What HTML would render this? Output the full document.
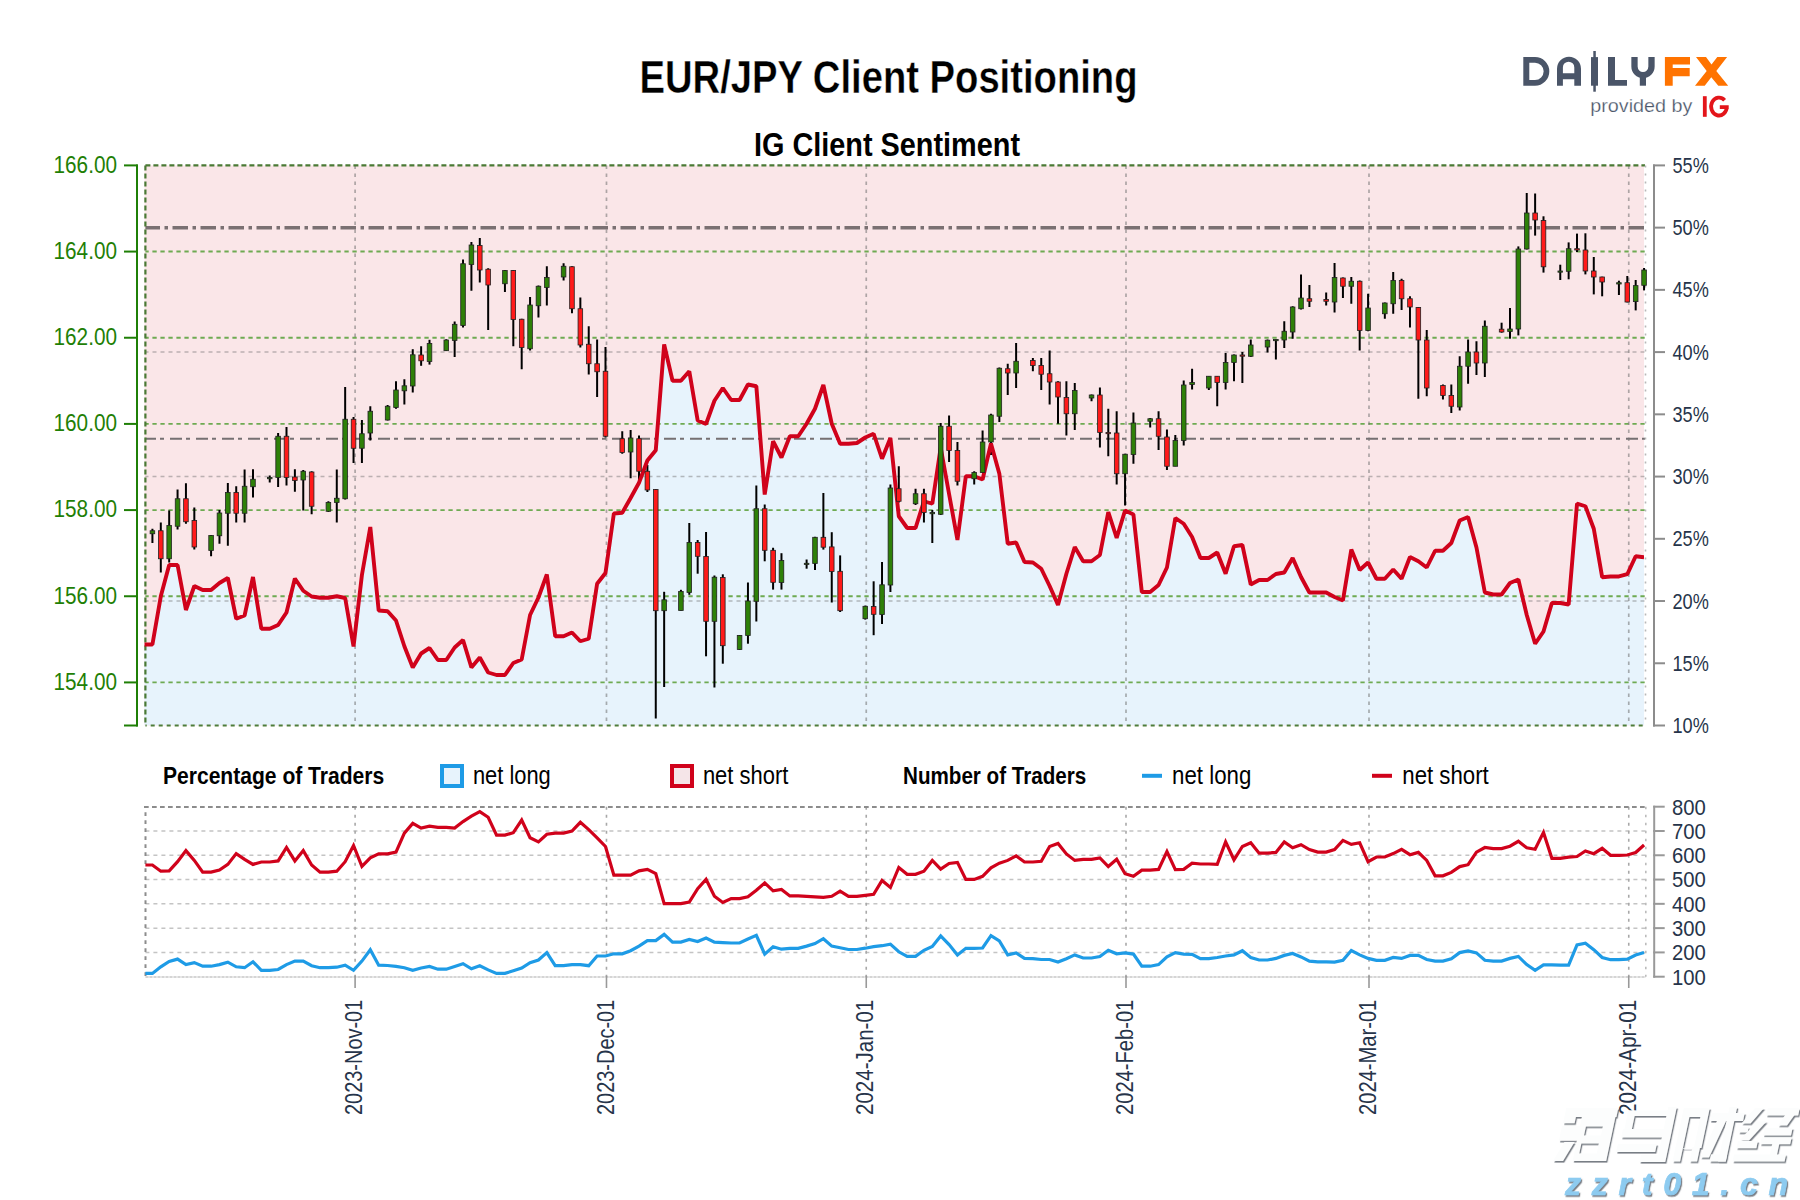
<!DOCTYPE html><html><head><meta charset="utf-8"><style>html,body{margin:0;padding:0;background:#fff;}svg{display:block}</style></head><body>
<svg width="1800" height="1200" viewBox="0 0 1800 1200" font-family="Liberation Sans, sans-serif">
<rect width="1800" height="1200" fill="#fff"/>
<text x="888.5" y="92.8" font-size="45.5" font-weight="bold" text-anchor="middle" textLength="498" lengthAdjust="spacingAndGlyphs" fill="#000" stroke="#fff" stroke-width="0.35">EUR/JPY Client Positioning</text>
<text x="887" y="155.8" font-size="32.5" font-weight="bold" text-anchor="middle" textLength="266" lengthAdjust="spacingAndGlyphs" fill="#000">IG Client Sentiment</text>
<g fill="#4a5568">
<path fill-rule="evenodd" d="M1523.3,57.1 H1535 A14.3,14.3 0 0 1 1535,85.7 H1523.3 Z M1529.3,62.7 H1535 A8.65,8.65 0 0 1 1535,80 H1529.3 Z"/>
<path fill-rule="evenodd" d="M1557,85.7 V68.7 A12,12 0 0 1 1581,68.7 V85.7 H1574.3 V79.3 H1562.9 V85.7 Z M1562.9,73.2 V67.4 A5.7,5.7 0 0 1 1574.3,67.4 V73.2 Z"/>
<rect x="1591" y="57.1" width="7" height="28.6"/><rect x="1593.3" y="51" width="2.5" height="40.7"/>
<path d="M1608,57.1 H1615 V80 H1627 V85.7 H1608 Z"/>
<path d="M1634.5,57.1 V66.6 A8.5,8.5 0 0 0 1651.5,66.6 V57.1" fill="none" stroke="#4a5568" stroke-width="6.3"/>
<rect x="1639.8" y="73" width="6.2" height="12.7"/>
</g>
<g fill="#ff7300">
<path d="M1664.9,57.1 H1690 V64.5 H1672.7 V68 H1689.7 V76.3 H1672.7 V85.7 H1664.9 Z"/>
<polygon points="1696,57.1 1706,57.1 1711.5,64.6 1717.3,57.1 1727.1,57.1 1716.3,71 1728.2,85.7 1718.3,85.7 1711.3,77.3 1704.7,85.7 1695,85.7 1706.7,71"/>
</g>
<text x="1590.2" y="112.4" font-size="19" textLength="102.3" lengthAdjust="spacingAndGlyphs" fill="#4a5568" stroke="#fff" stroke-width="0.25">provided by</text>
<rect x="1702.9" y="96.2" width="3.8" height="20.6" fill="#e3151a"/>
<path d="M1724.6,100.3 A7.85,8.9 0 1 0 1726.85,106.8 M1719.8,107.2 H1728.7" fill="none" stroke="#e3151a" stroke-width="3.8"/>
<rect x="144.5" y="165.4" width="1499.5" height="560.1" fill="#fae6e8"/>
<defs><clipPath id="pc"><rect x="144.5" y="165.4" width="1499.5" height="560.1"/></clipPath><clipPath id="bc"><rect x="145.4" y="801.7" width="1500.3999999999999" height="180.0"/></clipPath></defs>
<polygon clip-path="url(#pc)" points="144.04,725.5 144.04,644.50 152.42,644.50 160.80,596.30 169.18,565.00 177.56,565.00 185.94,610.00 194.32,586.00 202.70,590.00 211.08,590.00 219.46,583.00 227.84,578.00 236.22,618.75 244.60,615.50 252.98,577.00 261.36,628.75 269.74,628.75 278.12,625.00 286.50,612.50 294.88,578.50 303.26,590.75 311.64,596.50 320.02,597.75 328.40,597.75 336.78,596.25 345.16,598.00 353.54,646.50 361.92,575.00 370.30,527.00 378.68,610.50 387.61,611.25 395.99,620.50 404.37,646.25 412.75,667.50 421.13,653.50 429.51,648.00 437.89,660.00 446.27,660.00 454.65,647.50 463.03,640.00 471.41,667.50 479.79,657.50 488.17,672.50 496.55,675.00 504.93,675.00 513.31,663.00 521.69,659.50 530.07,615.00 538.45,597.50 546.83,574.50 555.21,636.25 563.59,636.25 571.97,632.50 580.35,641.25 588.73,638.75 597.11,583.75 605.49,573.00 613.87,513.50 622.25,512.75 630.63,498.00 639.01,482.75 647.39,460.50 655.77,450.25 664.15,344.50 672.53,380.75 680.91,380.75 689.29,371.25 697.67,420.50 706.05,424.00 714.43,400.75 722.81,388.00 731.19,400.00 739.57,400.00 747.95,384.50 756.33,386.25 764.71,494.50 773.09,441.25 781.47,457.50 789.85,436.25 798.23,436.25 806.61,423.75 814.99,408.75 823.37,385.00 831.75,423.75 840.13,443.75 848.51,443.75 856.89,443.00 865.27,437.50 873.65,433.75 882.03,458.75 890.41,438.00 898.79,516.25 907.17,528.00 915.55,528.00 923.93,501.25 932.31,503.75 940.69,447.50 949.07,494.00 957.45,540.00 965.83,476.25 974.21,476.25 982.59,479.50 990.97,443.50 999.35,473.75 1007.73,543.75 1016.11,542.50 1024.49,562.00 1032.87,562.50 1041.25,568.75 1049.63,586.00 1058.01,605.00 1066.39,573.75 1074.77,547.00 1083.15,561.25 1091.53,561.25 1099.91,555.00 1108.29,512.00 1116.67,538.00 1125.05,510.50 1133.43,514.50 1141.81,592.00 1150.19,592.00 1158.57,585.00 1166.95,567.50 1175.33,518.00 1183.71,523.75 1192.09,537.00 1200.47,558.00 1208.85,558.00 1217.23,552.50 1225.61,573.75 1233.99,546.25 1242.37,545.00 1250.75,584.50 1259.13,580.00 1267.51,580.00 1275.89,574.00 1284.27,572.50 1292.65,558.00 1301.03,577.00 1309.41,592.50 1317.79,592.50 1326.17,592.50 1334.55,597.00 1342.93,600.50 1351.31,549.50 1359.69,570.00 1368.07,562.50 1376.45,578.75 1384.83,578.75 1393.21,569.50 1401.59,578.75 1409.97,557.00 1418.35,561.25 1426.73,567.50 1435.11,550.75 1442.94,550.75 1451.32,543.00 1459.70,520.50 1468.08,517.00 1476.46,547.50 1484.84,592.50 1493.22,594.50 1501.60,594.50 1509.98,583.00 1518.36,579.50 1526.74,615.00 1535.12,643.75 1543.50,631.50 1551.88,603.00 1560.26,603.00 1568.64,604.50 1577.02,503.70 1585.40,506.25 1593.78,528.75 1602.16,577.20 1610.54,576.45 1618.92,576.45 1627.30,574.20 1635.68,556.20 1644.06,557.25 1644.06,725.5" fill="#e7f3fc"/>
<line x1="145.4" y1="352.10" x2="1645.0" y2="352.10" stroke="#6e6e6e" stroke-opacity="0.45" stroke-width="1.5" stroke-dasharray="4 4" stroke-dashoffset="0.9"/>
<line x1="145.4" y1="476.57" x2="1645.0" y2="476.57" stroke="#6e6e6e" stroke-opacity="0.45" stroke-width="1.5" stroke-dasharray="4 4" stroke-dashoffset="0.9"/>
<line x1="145.4" y1="601.03" x2="1645.0" y2="601.03" stroke="#6e6e6e" stroke-opacity="0.45" stroke-width="1.5" stroke-dasharray="4 4" stroke-dashoffset="0.9"/>
<line x1="145.4" y1="251.57" x2="1645.0" y2="251.57" stroke="#6eaa52" stroke-width="1.9" stroke-dasharray="4.3 3.7" stroke-dashoffset="1"/>
<line x1="145.4" y1="337.74" x2="1645.0" y2="337.74" stroke="#6eaa52" stroke-width="1.9" stroke-dasharray="4.3 3.7" stroke-dashoffset="1"/>
<line x1="145.4" y1="423.91" x2="1645.0" y2="423.91" stroke="#6eaa52" stroke-width="1.9" stroke-dasharray="4.3 3.7" stroke-dashoffset="1"/>
<line x1="145.4" y1="510.08" x2="1645.0" y2="510.08" stroke="#6eaa52" stroke-width="1.9" stroke-dasharray="4.3 3.7" stroke-dashoffset="1"/>
<line x1="145.4" y1="596.25" x2="1645.0" y2="596.25" stroke="#6eaa52" stroke-width="1.9" stroke-dasharray="4.3 3.7" stroke-dashoffset="1"/>
<line x1="145.4" y1="682.42" x2="1645.0" y2="682.42" stroke="#6eaa52" stroke-width="1.9" stroke-dasharray="4.3 3.7" stroke-dashoffset="1"/>
<line x1="355.10" y1="165.4" x2="355.10" y2="725.5" stroke="#6e6e6e" stroke-opacity="0.55" stroke-width="1.7" stroke-dasharray="3.5 4.5"/>
<line x1="606.48" y1="165.4" x2="606.48" y2="725.5" stroke="#6e6e6e" stroke-opacity="0.55" stroke-width="1.7" stroke-dasharray="3.5 4.5"/>
<line x1="866.24" y1="165.4" x2="866.24" y2="725.5" stroke="#6e6e6e" stroke-opacity="0.55" stroke-width="1.7" stroke-dasharray="3.5 4.5"/>
<line x1="1126.00" y1="165.4" x2="1126.00" y2="725.5" stroke="#6e6e6e" stroke-opacity="0.55" stroke-width="1.7" stroke-dasharray="3.5 4.5"/>
<line x1="1369.00" y1="165.4" x2="1369.00" y2="725.5" stroke="#6e6e6e" stroke-opacity="0.55" stroke-width="1.7" stroke-dasharray="3.5 4.5"/>
<line x1="1628.75" y1="165.4" x2="1628.75" y2="725.5" stroke="#6e6e6e" stroke-opacity="0.55" stroke-width="1.7" stroke-dasharray="3.5 4.5"/>
<line x1="145.4" y1="227.7" x2="1645.0" y2="227.7" stroke="#7a7072" stroke-width="3.4" stroke-dasharray="15.5 4.5 3.5 4.5" stroke-dashoffset="0.9"/>
<line x1="145.4" y1="438.8" x2="1645.0" y2="438.8" stroke="#767072" stroke-width="2" stroke-dasharray="12 4 4 6" stroke-dashoffset="1.4"/>
<line x1="145.4" y1="165.4" x2="1645.0" y2="165.4" stroke="#4a7a35" stroke-width="2.2" stroke-dasharray="5 3"/>
<line x1="145.4" y1="725.5" x2="1645.0" y2="725.5" stroke="#4e7d3a" stroke-width="2.2" stroke-dasharray="4 4" stroke-dashoffset="2.7"/>
<line x1="145.4" y1="165.4" x2="145.4" y2="725.5" stroke="#4a7a35" stroke-width="2.2" stroke-dasharray="5 3"/>
<line x1="1645.5" y1="165.4" x2="1645.5" y2="725.5" stroke="#b8b8b8" stroke-width="1.6" stroke-dasharray="2.2 5.8"/>
<line x1="152.42" y1="528.75" x2="152.42" y2="543.00" stroke="#000" stroke-width="2"/>
<line x1="160.80" y1="522.50" x2="160.80" y2="572.50" stroke="#000" stroke-width="2"/>
<line x1="169.18" y1="510.50" x2="169.18" y2="562.50" stroke="#000" stroke-width="2"/>
<line x1="177.56" y1="489.50" x2="177.56" y2="529.50" stroke="#000" stroke-width="2"/>
<line x1="185.94" y1="483.25" x2="185.94" y2="523.75" stroke="#000" stroke-width="2"/>
<line x1="194.32" y1="507.50" x2="194.32" y2="549.50" stroke="#000" stroke-width="2"/>
<line x1="211.08" y1="535.00" x2="211.08" y2="556.25" stroke="#000" stroke-width="2"/>
<line x1="219.46" y1="510.00" x2="219.46" y2="543.75" stroke="#000" stroke-width="2"/>
<line x1="227.84" y1="483.00" x2="227.84" y2="545.75" stroke="#000" stroke-width="2"/>
<line x1="236.22" y1="486.25" x2="236.22" y2="522.50" stroke="#000" stroke-width="2"/>
<line x1="244.60" y1="469.50" x2="244.60" y2="522.50" stroke="#000" stroke-width="2"/>
<line x1="252.98" y1="469.25" x2="252.98" y2="497.50" stroke="#000" stroke-width="2"/>
<line x1="269.74" y1="475.50" x2="269.74" y2="482.50" stroke="#000" stroke-width="2"/>
<line x1="278.12" y1="433.00" x2="278.12" y2="487.00" stroke="#000" stroke-width="2"/>
<line x1="286.50" y1="427.00" x2="286.50" y2="485.50" stroke="#000" stroke-width="2"/>
<line x1="294.88" y1="469.25" x2="294.88" y2="491.75" stroke="#000" stroke-width="2"/>
<line x1="303.26" y1="470.00" x2="303.26" y2="510.50" stroke="#000" stroke-width="2"/>
<line x1="311.64" y1="471.25" x2="311.64" y2="514.25" stroke="#000" stroke-width="2"/>
<line x1="328.40" y1="501.25" x2="328.40" y2="512.00" stroke="#000" stroke-width="2"/>
<line x1="336.78" y1="469.50" x2="336.78" y2="522.50" stroke="#000" stroke-width="2"/>
<line x1="345.16" y1="387.00" x2="345.16" y2="499.50" stroke="#000" stroke-width="2"/>
<line x1="353.54" y1="417.00" x2="353.54" y2="463.00" stroke="#000" stroke-width="2"/>
<line x1="361.92" y1="420.00" x2="361.92" y2="463.00" stroke="#000" stroke-width="2"/>
<line x1="370.30" y1="406.25" x2="370.30" y2="440.50" stroke="#000" stroke-width="2"/>
<line x1="387.61" y1="405.00" x2="387.61" y2="420.50" stroke="#000" stroke-width="2"/>
<line x1="395.99" y1="381.25" x2="395.99" y2="408.75" stroke="#000" stroke-width="2"/>
<line x1="404.37" y1="379.25" x2="404.37" y2="404.50" stroke="#000" stroke-width="2"/>
<line x1="412.75" y1="349.20" x2="412.75" y2="392.50" stroke="#000" stroke-width="2"/>
<line x1="421.13" y1="346.25" x2="421.13" y2="365.80" stroke="#000" stroke-width="2"/>
<line x1="429.51" y1="339.80" x2="429.51" y2="364.60" stroke="#000" stroke-width="2"/>
<line x1="446.27" y1="339.25" x2="446.27" y2="351.00" stroke="#000" stroke-width="2"/>
<line x1="454.65" y1="321.50" x2="454.65" y2="357.00" stroke="#000" stroke-width="2"/>
<line x1="463.03" y1="259.50" x2="463.03" y2="327.50" stroke="#000" stroke-width="2"/>
<line x1="471.41" y1="242.00" x2="471.41" y2="290.75" stroke="#000" stroke-width="2"/>
<line x1="479.79" y1="238.00" x2="479.79" y2="282.50" stroke="#000" stroke-width="2"/>
<line x1="488.17" y1="268.25" x2="488.17" y2="330.00" stroke="#000" stroke-width="2"/>
<line x1="504.93" y1="270.00" x2="504.93" y2="292.00" stroke="#000" stroke-width="2"/>
<line x1="513.31" y1="270.00" x2="513.31" y2="346.25" stroke="#000" stroke-width="2"/>
<line x1="521.69" y1="318.75" x2="521.69" y2="369.25" stroke="#000" stroke-width="2"/>
<line x1="530.07" y1="297.00" x2="530.07" y2="350.50" stroke="#000" stroke-width="2"/>
<line x1="538.45" y1="285.50" x2="538.45" y2="317.50" stroke="#000" stroke-width="2"/>
<line x1="546.83" y1="266.25" x2="546.83" y2="305.50" stroke="#000" stroke-width="2"/>
<line x1="563.59" y1="263.25" x2="563.59" y2="280.50" stroke="#000" stroke-width="2"/>
<line x1="571.97" y1="266.25" x2="571.97" y2="313.25" stroke="#000" stroke-width="2"/>
<line x1="580.35" y1="297.50" x2="580.35" y2="347.50" stroke="#000" stroke-width="2"/>
<line x1="588.73" y1="326.25" x2="588.73" y2="374.50" stroke="#000" stroke-width="2"/>
<line x1="597.11" y1="339.50" x2="597.11" y2="397.00" stroke="#000" stroke-width="2"/>
<line x1="605.49" y1="347.00" x2="605.49" y2="437.50" stroke="#000" stroke-width="2"/>
<line x1="622.25" y1="431.25" x2="622.25" y2="453.75" stroke="#000" stroke-width="2"/>
<line x1="630.63" y1="430.00" x2="630.63" y2="478.25" stroke="#000" stroke-width="2"/>
<line x1="639.01" y1="435.50" x2="639.01" y2="480.00" stroke="#000" stroke-width="2"/>
<line x1="647.39" y1="465.00" x2="647.39" y2="492.00" stroke="#000" stroke-width="2"/>
<line x1="655.77" y1="489.00" x2="655.77" y2="718.50" stroke="#000" stroke-width="2"/>
<line x1="664.15" y1="591.80" x2="664.15" y2="687.00" stroke="#000" stroke-width="2"/>
<line x1="680.91" y1="589.80" x2="680.91" y2="610.70" stroke="#000" stroke-width="2"/>
<line x1="689.29" y1="523.00" x2="689.29" y2="594.80" stroke="#000" stroke-width="2"/>
<line x1="697.67" y1="540.00" x2="697.67" y2="573.70" stroke="#000" stroke-width="2"/>
<line x1="706.05" y1="532.00" x2="706.05" y2="656.30" stroke="#000" stroke-width="2"/>
<line x1="714.43" y1="575.50" x2="714.43" y2="687.50" stroke="#000" stroke-width="2"/>
<line x1="722.81" y1="574.30" x2="722.81" y2="663.70" stroke="#000" stroke-width="2"/>
<line x1="739.57" y1="635.00" x2="739.57" y2="650.00" stroke="#000" stroke-width="2"/>
<line x1="747.95" y1="582.50" x2="747.95" y2="643.70" stroke="#000" stroke-width="2"/>
<line x1="756.33" y1="485.50" x2="756.33" y2="621.50" stroke="#000" stroke-width="2"/>
<line x1="764.71" y1="504.50" x2="764.71" y2="561.30" stroke="#000" stroke-width="2"/>
<line x1="773.09" y1="547.75" x2="773.09" y2="589.60" stroke="#000" stroke-width="2"/>
<line x1="781.47" y1="553.20" x2="781.47" y2="589.60" stroke="#000" stroke-width="2"/>
<line x1="806.61" y1="559.50" x2="806.61" y2="568.70" stroke="#000" stroke-width="2"/>
<line x1="814.99" y1="536.80" x2="814.99" y2="570.00" stroke="#000" stroke-width="2"/>
<line x1="823.37" y1="493.00" x2="823.37" y2="549.60" stroke="#000" stroke-width="2"/>
<line x1="831.75" y1="532.20" x2="831.75" y2="602.50" stroke="#000" stroke-width="2"/>
<line x1="840.13" y1="555.40" x2="840.13" y2="612.00" stroke="#000" stroke-width="2"/>
<line x1="865.27" y1="605.60" x2="865.27" y2="619.60" stroke="#000" stroke-width="2"/>
<line x1="873.65" y1="581.30" x2="873.65" y2="635.20" stroke="#000" stroke-width="2"/>
<line x1="882.03" y1="562.00" x2="882.03" y2="624.00" stroke="#000" stroke-width="2"/>
<line x1="890.41" y1="484.50" x2="890.41" y2="592.00" stroke="#000" stroke-width="2"/>
<line x1="898.79" y1="466.25" x2="898.79" y2="502.50" stroke="#000" stroke-width="2"/>
<line x1="915.55" y1="488.75" x2="915.55" y2="505.00" stroke="#000" stroke-width="2"/>
<line x1="923.93" y1="488.75" x2="923.93" y2="522.50" stroke="#000" stroke-width="2"/>
<line x1="932.31" y1="510.00" x2="932.31" y2="543.00" stroke="#000" stroke-width="2"/>
<line x1="940.69" y1="423.00" x2="940.69" y2="515.00" stroke="#000" stroke-width="2"/>
<line x1="949.07" y1="415.50" x2="949.07" y2="462.00" stroke="#000" stroke-width="2"/>
<line x1="957.45" y1="442.00" x2="957.45" y2="485.50" stroke="#000" stroke-width="2"/>
<line x1="974.21" y1="471.25" x2="974.21" y2="484.50" stroke="#000" stroke-width="2"/>
<line x1="982.59" y1="430.50" x2="982.59" y2="473.00" stroke="#000" stroke-width="2"/>
<line x1="990.97" y1="413.75" x2="990.97" y2="455.00" stroke="#000" stroke-width="2"/>
<line x1="999.35" y1="367.50" x2="999.35" y2="422.00" stroke="#000" stroke-width="2"/>
<line x1="1007.73" y1="363.75" x2="1007.73" y2="395.00" stroke="#000" stroke-width="2"/>
<line x1="1016.11" y1="343.00" x2="1016.11" y2="388.00" stroke="#000" stroke-width="2"/>
<line x1="1032.87" y1="358.00" x2="1032.87" y2="371.25" stroke="#000" stroke-width="2"/>
<line x1="1041.25" y1="358.00" x2="1041.25" y2="390.00" stroke="#000" stroke-width="2"/>
<line x1="1049.63" y1="350.50" x2="1049.63" y2="404.50" stroke="#000" stroke-width="2"/>
<line x1="1058.01" y1="381.25" x2="1058.01" y2="423.75" stroke="#000" stroke-width="2"/>
<line x1="1066.39" y1="381.25" x2="1066.39" y2="435.50" stroke="#000" stroke-width="2"/>
<line x1="1074.77" y1="383.00" x2="1074.77" y2="430.00" stroke="#000" stroke-width="2"/>
<line x1="1091.53" y1="394.50" x2="1091.53" y2="401.25" stroke="#000" stroke-width="2"/>
<line x1="1099.91" y1="387.50" x2="1099.91" y2="447.50" stroke="#000" stroke-width="2"/>
<line x1="1108.29" y1="408.75" x2="1108.29" y2="456.25" stroke="#000" stroke-width="2"/>
<line x1="1116.67" y1="411.25" x2="1116.67" y2="484.50" stroke="#000" stroke-width="2"/>
<line x1="1125.05" y1="453.75" x2="1125.05" y2="505.50" stroke="#000" stroke-width="2"/>
<line x1="1133.43" y1="412.50" x2="1133.43" y2="463.75" stroke="#000" stroke-width="2"/>
<line x1="1150.19" y1="418.00" x2="1150.19" y2="427.50" stroke="#000" stroke-width="2"/>
<line x1="1158.57" y1="411.25" x2="1158.57" y2="450.00" stroke="#000" stroke-width="2"/>
<line x1="1166.95" y1="429.50" x2="1166.95" y2="470.00" stroke="#000" stroke-width="2"/>
<line x1="1175.33" y1="435.00" x2="1175.33" y2="466.25" stroke="#000" stroke-width="2"/>
<line x1="1183.71" y1="380.50" x2="1183.71" y2="445.50" stroke="#000" stroke-width="2"/>
<line x1="1192.09" y1="368.75" x2="1192.09" y2="389.50" stroke="#000" stroke-width="2"/>
<line x1="1208.85" y1="376.25" x2="1208.85" y2="390.00" stroke="#000" stroke-width="2"/>
<line x1="1217.23" y1="376.25" x2="1217.23" y2="406.25" stroke="#000" stroke-width="2"/>
<line x1="1225.61" y1="353.00" x2="1225.61" y2="389.50" stroke="#000" stroke-width="2"/>
<line x1="1233.99" y1="354.50" x2="1233.99" y2="381.25" stroke="#000" stroke-width="2"/>
<line x1="1242.37" y1="352.00" x2="1242.37" y2="383.00" stroke="#000" stroke-width="2"/>
<line x1="1250.75" y1="339.50" x2="1250.75" y2="357.00" stroke="#000" stroke-width="2"/>
<line x1="1267.51" y1="339.50" x2="1267.51" y2="352.50" stroke="#000" stroke-width="2"/>
<line x1="1275.89" y1="339.50" x2="1275.89" y2="359.50" stroke="#000" stroke-width="2"/>
<line x1="1284.27" y1="321.25" x2="1284.27" y2="348.00" stroke="#000" stroke-width="2"/>
<line x1="1292.65" y1="306.25" x2="1292.65" y2="338.75" stroke="#000" stroke-width="2"/>
<line x1="1301.03" y1="274.50" x2="1301.03" y2="309.50" stroke="#000" stroke-width="2"/>
<line x1="1309.41" y1="285.00" x2="1309.41" y2="307.00" stroke="#000" stroke-width="2"/>
<line x1="1326.17" y1="292.50" x2="1326.17" y2="305.50" stroke="#000" stroke-width="2"/>
<line x1="1334.55" y1="263.00" x2="1334.55" y2="312.50" stroke="#000" stroke-width="2"/>
<line x1="1342.93" y1="277.50" x2="1342.93" y2="298.00" stroke="#000" stroke-width="2"/>
<line x1="1351.31" y1="277.00" x2="1351.31" y2="303.75" stroke="#000" stroke-width="2"/>
<line x1="1359.69" y1="280.50" x2="1359.69" y2="350.50" stroke="#000" stroke-width="2"/>
<line x1="1368.07" y1="293.75" x2="1368.07" y2="331.25" stroke="#000" stroke-width="2"/>
<line x1="1384.83" y1="302.50" x2="1384.83" y2="318.75" stroke="#000" stroke-width="2"/>
<line x1="1393.21" y1="272.00" x2="1393.21" y2="313.75" stroke="#000" stroke-width="2"/>
<line x1="1401.59" y1="278.75" x2="1401.59" y2="310.00" stroke="#000" stroke-width="2"/>
<line x1="1409.97" y1="296.25" x2="1409.97" y2="327.50" stroke="#000" stroke-width="2"/>
<line x1="1418.35" y1="307.00" x2="1418.35" y2="398.75" stroke="#000" stroke-width="2"/>
<line x1="1426.73" y1="330.00" x2="1426.73" y2="396.25" stroke="#000" stroke-width="2"/>
<line x1="1442.94" y1="384.50" x2="1442.94" y2="399.50" stroke="#000" stroke-width="2"/>
<line x1="1451.32" y1="384.50" x2="1451.32" y2="413.00" stroke="#000" stroke-width="2"/>
<line x1="1459.70" y1="356.25" x2="1459.70" y2="410.50" stroke="#000" stroke-width="2"/>
<line x1="1468.08" y1="339.50" x2="1468.08" y2="383.75" stroke="#000" stroke-width="2"/>
<line x1="1476.46" y1="341.25" x2="1476.46" y2="375.00" stroke="#000" stroke-width="2"/>
<line x1="1484.84" y1="320.50" x2="1484.84" y2="377.00" stroke="#000" stroke-width="2"/>
<line x1="1501.60" y1="322.70" x2="1501.60" y2="332.70" stroke="#000" stroke-width="2"/>
<line x1="1509.98" y1="308.00" x2="1509.98" y2="338.70" stroke="#000" stroke-width="2"/>
<line x1="1518.36" y1="246.40" x2="1518.36" y2="335.40" stroke="#000" stroke-width="2"/>
<line x1="1526.74" y1="193.00" x2="1526.74" y2="249.50" stroke="#000" stroke-width="2"/>
<line x1="1535.12" y1="193.50" x2="1535.12" y2="235.60" stroke="#000" stroke-width="2"/>
<line x1="1543.50" y1="216.30" x2="1543.50" y2="272.60" stroke="#000" stroke-width="2"/>
<line x1="1560.26" y1="264.70" x2="1560.26" y2="280.00" stroke="#000" stroke-width="2"/>
<line x1="1568.64" y1="242.40" x2="1568.64" y2="279.30" stroke="#000" stroke-width="2"/>
<line x1="1577.02" y1="233.60" x2="1577.02" y2="252.00" stroke="#000" stroke-width="2"/>
<line x1="1585.40" y1="233.30" x2="1585.40" y2="274.40" stroke="#000" stroke-width="2"/>
<line x1="1593.78" y1="257.00" x2="1593.78" y2="294.40" stroke="#000" stroke-width="2"/>
<line x1="1602.16" y1="276.70" x2="1602.16" y2="296.30" stroke="#000" stroke-width="2"/>
<line x1="1618.92" y1="280.70" x2="1618.92" y2="295.00" stroke="#000" stroke-width="2"/>
<line x1="1627.30" y1="276.00" x2="1627.30" y2="302.40" stroke="#000" stroke-width="2"/>
<line x1="1635.68" y1="280.00" x2="1635.68" y2="310.40" stroke="#000" stroke-width="2"/>
<line x1="1644.06" y1="268.00" x2="1644.06" y2="290.40" stroke="#000" stroke-width="2"/>
<polyline clip-path="url(#pc)" points="144.04,644.50 152.42,644.50 160.80,596.30 169.18,565.00 177.56,565.00 185.94,610.00 194.32,586.00 202.70,590.00 211.08,590.00 219.46,583.00 227.84,578.00 236.22,618.75 244.60,615.50 252.98,577.00 261.36,628.75 269.74,628.75 278.12,625.00 286.50,612.50 294.88,578.50 303.26,590.75 311.64,596.50 320.02,597.75 328.40,597.75 336.78,596.25 345.16,598.00 353.54,646.50 361.92,575.00 370.30,527.00 378.68,610.50 387.61,611.25 395.99,620.50 404.37,646.25 412.75,667.50 421.13,653.50 429.51,648.00 437.89,660.00 446.27,660.00 454.65,647.50 463.03,640.00 471.41,667.50 479.79,657.50 488.17,672.50 496.55,675.00 504.93,675.00 513.31,663.00 521.69,659.50 530.07,615.00 538.45,597.50 546.83,574.50 555.21,636.25 563.59,636.25 571.97,632.50 580.35,641.25 588.73,638.75 597.11,583.75 605.49,573.00 613.87,513.50 622.25,512.75 630.63,498.00 639.01,482.75 647.39,460.50 655.77,450.25 664.15,344.50 672.53,380.75 680.91,380.75 689.29,371.25 697.67,420.50 706.05,424.00 714.43,400.75 722.81,388.00 731.19,400.00 739.57,400.00 747.95,384.50 756.33,386.25 764.71,494.50 773.09,441.25 781.47,457.50 789.85,436.25 798.23,436.25 806.61,423.75 814.99,408.75 823.37,385.00 831.75,423.75 840.13,443.75 848.51,443.75 856.89,443.00 865.27,437.50 873.65,433.75 882.03,458.75 890.41,438.00 898.79,516.25 907.17,528.00 915.55,528.00 923.93,501.25 932.31,503.75 940.69,447.50 949.07,494.00 957.45,540.00 965.83,476.25 974.21,476.25 982.59,479.50 990.97,443.50 999.35,473.75 1007.73,543.75 1016.11,542.50 1024.49,562.00 1032.87,562.50 1041.25,568.75 1049.63,586.00 1058.01,605.00 1066.39,573.75 1074.77,547.00 1083.15,561.25 1091.53,561.25 1099.91,555.00 1108.29,512.00 1116.67,538.00 1125.05,510.50 1133.43,514.50 1141.81,592.00 1150.19,592.00 1158.57,585.00 1166.95,567.50 1175.33,518.00 1183.71,523.75 1192.09,537.00 1200.47,558.00 1208.85,558.00 1217.23,552.50 1225.61,573.75 1233.99,546.25 1242.37,545.00 1250.75,584.50 1259.13,580.00 1267.51,580.00 1275.89,574.00 1284.27,572.50 1292.65,558.00 1301.03,577.00 1309.41,592.50 1317.79,592.50 1326.17,592.50 1334.55,597.00 1342.93,600.50 1351.31,549.50 1359.69,570.00 1368.07,562.50 1376.45,578.75 1384.83,578.75 1393.21,569.50 1401.59,578.75 1409.97,557.00 1418.35,561.25 1426.73,567.50 1435.11,550.75 1442.94,550.75 1451.32,543.00 1459.70,520.50 1468.08,517.00 1476.46,547.50 1484.84,592.50 1493.22,594.50 1501.60,594.50 1509.98,583.00 1518.36,579.50 1526.74,615.00 1535.12,643.75 1543.50,631.50 1551.88,603.00 1560.26,603.00 1568.64,604.50 1577.02,503.70 1585.40,506.25 1593.78,528.75 1602.16,577.20 1610.54,576.45 1618.92,576.45 1627.30,574.20 1635.68,556.20 1644.06,557.25" fill="none" stroke="#d0021b" stroke-width="3.9" stroke-linejoin="bevel"/>
<rect x="150.12" y="530.75" width="4.6" height="3.00" fill="#2e8008" stroke="#222" stroke-width="0.8"/>
<rect x="158.50" y="530.75" width="4.6" height="28.00" fill="#ff1a1a" stroke="#222" stroke-width="0.8"/>
<rect x="166.88" y="525.50" width="4.6" height="33.25" fill="#2e8008" stroke="#222" stroke-width="0.8"/>
<rect x="175.26" y="498.75" width="4.6" height="27.50" fill="#2e8008" stroke="#222" stroke-width="0.8"/>
<rect x="183.64" y="498.75" width="4.6" height="23.00" fill="#ff1a1a" stroke="#222" stroke-width="0.8"/>
<rect x="192.02" y="520.50" width="4.6" height="26.50" fill="#ff1a1a" stroke="#222" stroke-width="0.8"/>
<rect x="208.78" y="535.50" width="4.6" height="15.00" fill="#2e8008" stroke="#222" stroke-width="0.8"/>
<rect x="217.16" y="513.00" width="4.6" height="22.75" fill="#2e8008" stroke="#222" stroke-width="0.8"/>
<rect x="225.54" y="492.50" width="4.6" height="20.75" fill="#2e8008" stroke="#222" stroke-width="0.8"/>
<rect x="233.92" y="492.50" width="4.6" height="20.75" fill="#ff1a1a" stroke="#222" stroke-width="0.8"/>
<rect x="242.30" y="486.25" width="4.6" height="27.00" fill="#2e8008" stroke="#222" stroke-width="0.8"/>
<rect x="250.68" y="479.25" width="4.6" height="7.50" fill="#2e8008" stroke="#222" stroke-width="0.8"/>
<rect x="267.44" y="477.50" width="4.6" height="1.25" fill="#2e8008" stroke="#222" stroke-width="0.8"/>
<rect x="275.82" y="436.25" width="4.6" height="41.25" fill="#2e8008" stroke="#222" stroke-width="0.8"/>
<rect x="284.20" y="436.25" width="4.6" height="41.25" fill="#ff1a1a" stroke="#222" stroke-width="0.8"/>
<rect x="292.58" y="477.00" width="4.6" height="3.50" fill="#ff1a1a" stroke="#222" stroke-width="0.8"/>
<rect x="300.96" y="471.25" width="4.6" height="8.75" fill="#2e8008" stroke="#222" stroke-width="0.8"/>
<rect x="309.34" y="472.00" width="4.6" height="34.25" fill="#ff1a1a" stroke="#222" stroke-width="0.8"/>
<rect x="326.10" y="502.50" width="4.6" height="8.75" fill="#2e8008" stroke="#222" stroke-width="0.8"/>
<rect x="334.48" y="498.25" width="4.6" height="4.25" fill="#2e8008" stroke="#222" stroke-width="0.8"/>
<rect x="342.86" y="419.25" width="4.6" height="79.50" fill="#2e8008" stroke="#222" stroke-width="0.8"/>
<rect x="351.24" y="419.25" width="4.6" height="29.00" fill="#ff1a1a" stroke="#222" stroke-width="0.8"/>
<rect x="359.62" y="433.75" width="4.6" height="14.50" fill="#2e8008" stroke="#222" stroke-width="0.8"/>
<rect x="368.00" y="411.25" width="4.6" height="21.75" fill="#2e8008" stroke="#222" stroke-width="0.8"/>
<rect x="385.31" y="406.25" width="4.6" height="13.75" fill="#2e8008" stroke="#222" stroke-width="0.8"/>
<rect x="393.69" y="390.00" width="4.6" height="17.50" fill="#2e8008" stroke="#222" stroke-width="0.8"/>
<rect x="402.07" y="385.80" width="4.6" height="5.00" fill="#2e8008" stroke="#222" stroke-width="0.8"/>
<rect x="410.45" y="354.80" width="4.6" height="31.20" fill="#2e8008" stroke="#222" stroke-width="0.8"/>
<rect x="418.83" y="355.00" width="4.6" height="5.80" fill="#ff1a1a" stroke="#222" stroke-width="0.8"/>
<rect x="427.21" y="343.50" width="4.6" height="18.00" fill="#2e8008" stroke="#222" stroke-width="0.8"/>
<rect x="443.97" y="340.00" width="4.6" height="10.70" fill="#2e8008" stroke="#222" stroke-width="0.8"/>
<rect x="452.35" y="324.30" width="4.6" height="16.10" fill="#2e8008" stroke="#222" stroke-width="0.8"/>
<rect x="460.73" y="263.75" width="4.6" height="61.75" fill="#2e8008" stroke="#222" stroke-width="0.8"/>
<rect x="469.11" y="245.00" width="4.6" height="19.50" fill="#2e8008" stroke="#222" stroke-width="0.8"/>
<rect x="477.49" y="245.50" width="4.6" height="24.50" fill="#ff1a1a" stroke="#222" stroke-width="0.8"/>
<rect x="485.87" y="269.25" width="4.6" height="15.75" fill="#ff1a1a" stroke="#222" stroke-width="0.8"/>
<rect x="502.63" y="270.50" width="4.6" height="13.25" fill="#2e8008" stroke="#222" stroke-width="0.8"/>
<rect x="511.01" y="270.50" width="4.6" height="49.00" fill="#ff1a1a" stroke="#222" stroke-width="0.8"/>
<rect x="519.39" y="319.25" width="4.6" height="28.25" fill="#ff1a1a" stroke="#222" stroke-width="0.8"/>
<rect x="527.77" y="305.00" width="4.6" height="43.75" fill="#2e8008" stroke="#222" stroke-width="0.8"/>
<rect x="536.15" y="286.25" width="4.6" height="19.50" fill="#2e8008" stroke="#222" stroke-width="0.8"/>
<rect x="544.53" y="277.50" width="4.6" height="10.00" fill="#2e8008" stroke="#222" stroke-width="0.8"/>
<rect x="561.29" y="266.25" width="4.6" height="10.75" fill="#2e8008" stroke="#222" stroke-width="0.8"/>
<rect x="569.67" y="266.75" width="4.6" height="42.00" fill="#ff1a1a" stroke="#222" stroke-width="0.8"/>
<rect x="578.05" y="308.75" width="4.6" height="36.25" fill="#ff1a1a" stroke="#222" stroke-width="0.8"/>
<rect x="586.43" y="344.25" width="4.6" height="19.50" fill="#ff1a1a" stroke="#222" stroke-width="0.8"/>
<rect x="594.81" y="363.75" width="4.6" height="8.00" fill="#ff1a1a" stroke="#222" stroke-width="0.8"/>
<rect x="603.19" y="371.25" width="4.6" height="65.00" fill="#ff1a1a" stroke="#222" stroke-width="0.8"/>
<rect x="619.95" y="438.75" width="4.6" height="13.75" fill="#ff1a1a" stroke="#222" stroke-width="0.8"/>
<rect x="628.33" y="438.00" width="4.6" height="14.00" fill="#2e8008" stroke="#222" stroke-width="0.8"/>
<rect x="636.71" y="438.75" width="4.6" height="32.50" fill="#ff1a1a" stroke="#222" stroke-width="0.8"/>
<rect x="645.09" y="471.25" width="4.6" height="18.75" fill="#ff1a1a" stroke="#222" stroke-width="0.8"/>
<rect x="653.47" y="489.50" width="4.6" height="121.20" fill="#ff1a1a" stroke="#222" stroke-width="0.8"/>
<rect x="661.85" y="599.80" width="4.6" height="10.90" fill="#2e8008" stroke="#222" stroke-width="0.8"/>
<rect x="678.61" y="591.50" width="4.6" height="19.00" fill="#2e8008" stroke="#222" stroke-width="0.8"/>
<rect x="686.99" y="542.50" width="4.6" height="50.00" fill="#2e8008" stroke="#222" stroke-width="0.8"/>
<rect x="695.37" y="542.50" width="4.6" height="13.80" fill="#ff1a1a" stroke="#222" stroke-width="0.8"/>
<rect x="703.75" y="556.50" width="4.6" height="64.80" fill="#ff1a1a" stroke="#222" stroke-width="0.8"/>
<rect x="712.13" y="577.20" width="4.6" height="44.10" fill="#2e8008" stroke="#222" stroke-width="0.8"/>
<rect x="720.51" y="577.50" width="4.6" height="68.20" fill="#ff1a1a" stroke="#222" stroke-width="0.8"/>
<rect x="737.27" y="635.40" width="4.6" height="14.00" fill="#2e8008" stroke="#222" stroke-width="0.8"/>
<rect x="745.65" y="601.00" width="4.6" height="34.60" fill="#2e8008" stroke="#222" stroke-width="0.8"/>
<rect x="754.03" y="508.75" width="4.6" height="92.55" fill="#2e8008" stroke="#222" stroke-width="0.8"/>
<rect x="762.41" y="508.75" width="4.6" height="41.55" fill="#ff1a1a" stroke="#222" stroke-width="0.8"/>
<rect x="770.79" y="550.30" width="4.6" height="32.00" fill="#ff1a1a" stroke="#222" stroke-width="0.8"/>
<rect x="779.17" y="560.50" width="4.6" height="22.00" fill="#2e8008" stroke="#222" stroke-width="0.8"/>
<rect x="804.31" y="563.30" width="4.6" height="1.20" fill="#2e8008" stroke="#222" stroke-width="0.8"/>
<rect x="812.69" y="537.30" width="4.6" height="26.20" fill="#2e8008" stroke="#222" stroke-width="0.8"/>
<rect x="821.07" y="537.30" width="4.6" height="9.90" fill="#ff1a1a" stroke="#222" stroke-width="0.8"/>
<rect x="829.45" y="546.90" width="4.6" height="24.60" fill="#ff1a1a" stroke="#222" stroke-width="0.8"/>
<rect x="837.83" y="571.30" width="4.6" height="39.40" fill="#ff1a1a" stroke="#222" stroke-width="0.8"/>
<rect x="862.97" y="606.30" width="4.6" height="12.40" fill="#2e8008" stroke="#222" stroke-width="0.8"/>
<rect x="871.35" y="606.50" width="4.6" height="7.80" fill="#ff1a1a" stroke="#222" stroke-width="0.8"/>
<rect x="879.73" y="584.80" width="4.6" height="29.80" fill="#2e8008" stroke="#222" stroke-width="0.8"/>
<rect x="888.11" y="488.00" width="4.6" height="97.00" fill="#2e8008" stroke="#222" stroke-width="0.8"/>
<rect x="896.49" y="488.75" width="4.6" height="12.50" fill="#ff1a1a" stroke="#222" stroke-width="0.8"/>
<rect x="913.25" y="493.75" width="4.6" height="10.00" fill="#2e8008" stroke="#222" stroke-width="0.8"/>
<rect x="921.63" y="493.75" width="4.6" height="18.75" fill="#ff1a1a" stroke="#222" stroke-width="0.8"/>
<rect x="930.01" y="512.50" width="4.6" height="1.25" fill="#2e8008" stroke="#222" stroke-width="0.8"/>
<rect x="938.39" y="426.25" width="4.6" height="88.00" fill="#2e8008" stroke="#222" stroke-width="0.8"/>
<rect x="946.77" y="426.25" width="4.6" height="24.25" fill="#ff1a1a" stroke="#222" stroke-width="0.8"/>
<rect x="955.15" y="450.50" width="4.6" height="30.75" fill="#ff1a1a" stroke="#222" stroke-width="0.8"/>
<rect x="971.91" y="472.50" width="4.6" height="6.25" fill="#2e8008" stroke="#222" stroke-width="0.8"/>
<rect x="980.29" y="442.00" width="4.6" height="30.50" fill="#2e8008" stroke="#222" stroke-width="0.8"/>
<rect x="988.67" y="415.00" width="4.6" height="27.00" fill="#2e8008" stroke="#222" stroke-width="0.8"/>
<rect x="997.05" y="368.25" width="4.6" height="48.00" fill="#2e8008" stroke="#222" stroke-width="0.8"/>
<rect x="1005.43" y="368.75" width="4.6" height="4.25" fill="#ff1a1a" stroke="#222" stroke-width="0.8"/>
<rect x="1013.81" y="361.25" width="4.6" height="11.75" fill="#2e8008" stroke="#222" stroke-width="0.8"/>
<rect x="1030.57" y="360.50" width="4.6" height="5.00" fill="#ff1a1a" stroke="#222" stroke-width="0.8"/>
<rect x="1038.95" y="365.50" width="4.6" height="8.75" fill="#ff1a1a" stroke="#222" stroke-width="0.8"/>
<rect x="1047.33" y="373.75" width="4.6" height="8.25" fill="#ff1a1a" stroke="#222" stroke-width="0.8"/>
<rect x="1055.71" y="382.00" width="4.6" height="15.00" fill="#ff1a1a" stroke="#222" stroke-width="0.8"/>
<rect x="1064.09" y="397.50" width="4.6" height="16.25" fill="#ff1a1a" stroke="#222" stroke-width="0.8"/>
<rect x="1072.47" y="390.50" width="4.6" height="23.25" fill="#2e8008" stroke="#222" stroke-width="0.8"/>
<rect x="1089.23" y="395.00" width="4.6" height="3.00" fill="#2e8008" stroke="#222" stroke-width="0.8"/>
<rect x="1097.61" y="395.00" width="4.6" height="37.50" fill="#ff1a1a" stroke="#222" stroke-width="0.8"/>
<rect x="1105.99" y="432.50" width="4.6" height="1.20" fill="#ff1a1a" stroke="#222" stroke-width="0.8"/>
<rect x="1114.37" y="433.00" width="4.6" height="40.75" fill="#ff1a1a" stroke="#222" stroke-width="0.8"/>
<rect x="1122.75" y="454.25" width="4.6" height="19.50" fill="#2e8008" stroke="#222" stroke-width="0.8"/>
<rect x="1131.13" y="423.00" width="4.6" height="31.50" fill="#2e8008" stroke="#222" stroke-width="0.8"/>
<rect x="1147.89" y="418.75" width="4.6" height="2.50" fill="#2e8008" stroke="#222" stroke-width="0.8"/>
<rect x="1156.27" y="418.75" width="4.6" height="17.50" fill="#ff1a1a" stroke="#222" stroke-width="0.8"/>
<rect x="1164.65" y="437.00" width="4.6" height="29.25" fill="#ff1a1a" stroke="#222" stroke-width="0.8"/>
<rect x="1173.03" y="440.50" width="4.6" height="25.75" fill="#2e8008" stroke="#222" stroke-width="0.8"/>
<rect x="1181.41" y="385.00" width="4.6" height="55.50" fill="#2e8008" stroke="#222" stroke-width="0.8"/>
<rect x="1189.79" y="382.50" width="4.6" height="2.00" fill="#2e8008" stroke="#222" stroke-width="0.8"/>
<rect x="1206.55" y="376.25" width="4.6" height="11.75" fill="#2e8008" stroke="#222" stroke-width="0.8"/>
<rect x="1214.93" y="376.25" width="4.6" height="6.25" fill="#ff1a1a" stroke="#222" stroke-width="0.8"/>
<rect x="1223.31" y="362.50" width="4.6" height="20.00" fill="#2e8008" stroke="#222" stroke-width="0.8"/>
<rect x="1231.69" y="355.00" width="4.6" height="7.50" fill="#2e8008" stroke="#222" stroke-width="0.8"/>
<rect x="1240.07" y="355.00" width="4.6" height="1.20" fill="#ff1a1a" stroke="#222" stroke-width="0.8"/>
<rect x="1248.45" y="345.00" width="4.6" height="11.25" fill="#2e8008" stroke="#222" stroke-width="0.8"/>
<rect x="1265.21" y="340.20" width="4.6" height="6.80" fill="#2e8008" stroke="#222" stroke-width="0.8"/>
<rect x="1273.59" y="339.50" width="4.6" height="1.20" fill="#2e8008" stroke="#222" stroke-width="0.8"/>
<rect x="1281.97" y="331.25" width="4.6" height="8.75" fill="#2e8008" stroke="#222" stroke-width="0.8"/>
<rect x="1290.35" y="307.00" width="4.6" height="25.00" fill="#2e8008" stroke="#222" stroke-width="0.8"/>
<rect x="1298.73" y="298.00" width="4.6" height="10.75" fill="#2e8008" stroke="#222" stroke-width="0.8"/>
<rect x="1307.11" y="298.75" width="4.6" height="2.50" fill="#ff1a1a" stroke="#222" stroke-width="0.8"/>
<rect x="1323.87" y="299.50" width="4.6" height="1.75" fill="#ff1a1a" stroke="#222" stroke-width="0.8"/>
<rect x="1332.25" y="277.50" width="4.6" height="24.50" fill="#2e8008" stroke="#222" stroke-width="0.8"/>
<rect x="1340.63" y="278.00" width="4.6" height="8.25" fill="#ff1a1a" stroke="#222" stroke-width="0.8"/>
<rect x="1349.01" y="281.25" width="4.6" height="5.00" fill="#2e8008" stroke="#222" stroke-width="0.8"/>
<rect x="1357.39" y="281.25" width="4.6" height="49.25" fill="#ff1a1a" stroke="#222" stroke-width="0.8"/>
<rect x="1365.77" y="308.00" width="4.6" height="22.50" fill="#2e8008" stroke="#222" stroke-width="0.8"/>
<rect x="1382.53" y="303.00" width="4.6" height="10.75" fill="#2e8008" stroke="#222" stroke-width="0.8"/>
<rect x="1390.91" y="280.50" width="4.6" height="23.25" fill="#2e8008" stroke="#222" stroke-width="0.8"/>
<rect x="1399.29" y="280.50" width="4.6" height="18.25" fill="#ff1a1a" stroke="#222" stroke-width="0.8"/>
<rect x="1407.67" y="298.75" width="4.6" height="8.25" fill="#ff1a1a" stroke="#222" stroke-width="0.8"/>
<rect x="1416.05" y="307.50" width="4.6" height="32.50" fill="#ff1a1a" stroke="#222" stroke-width="0.8"/>
<rect x="1424.43" y="340.00" width="4.6" height="48.00" fill="#ff1a1a" stroke="#222" stroke-width="0.8"/>
<rect x="1440.64" y="385.50" width="4.6" height="10.00" fill="#ff1a1a" stroke="#222" stroke-width="0.8"/>
<rect x="1449.02" y="395.50" width="4.6" height="10.75" fill="#ff1a1a" stroke="#222" stroke-width="0.8"/>
<rect x="1457.40" y="366.25" width="4.6" height="40.75" fill="#2e8008" stroke="#222" stroke-width="0.8"/>
<rect x="1465.78" y="352.00" width="4.6" height="14.25" fill="#2e8008" stroke="#222" stroke-width="0.8"/>
<rect x="1474.16" y="352.00" width="4.6" height="11.00" fill="#ff1a1a" stroke="#222" stroke-width="0.8"/>
<rect x="1482.54" y="326.25" width="4.6" height="36.75" fill="#2e8008" stroke="#222" stroke-width="0.8"/>
<rect x="1499.30" y="329.20" width="4.6" height="2.80" fill="#ff1a1a" stroke="#222" stroke-width="0.8"/>
<rect x="1507.68" y="329.00" width="4.6" height="2.50" fill="#2e8008" stroke="#222" stroke-width="0.8"/>
<rect x="1516.06" y="249.00" width="4.6" height="80.00" fill="#2e8008" stroke="#222" stroke-width="0.8"/>
<rect x="1524.44" y="213.00" width="4.6" height="36.00" fill="#2e8008" stroke="#222" stroke-width="0.8"/>
<rect x="1532.82" y="213.00" width="4.6" height="7.00" fill="#ff1a1a" stroke="#222" stroke-width="0.8"/>
<rect x="1541.20" y="220.40" width="4.6" height="46.40" fill="#ff1a1a" stroke="#222" stroke-width="0.8"/>
<rect x="1557.96" y="271.00" width="4.6" height="1.20" fill="#2e8008" stroke="#222" stroke-width="0.8"/>
<rect x="1566.34" y="248.70" width="4.6" height="22.60" fill="#2e8008" stroke="#222" stroke-width="0.8"/>
<rect x="1574.72" y="248.70" width="4.6" height="1.30" fill="#ff1a1a" stroke="#222" stroke-width="0.8"/>
<rect x="1583.10" y="250.00" width="4.6" height="21.00" fill="#ff1a1a" stroke="#222" stroke-width="0.8"/>
<rect x="1591.48" y="271.00" width="4.6" height="6.00" fill="#ff1a1a" stroke="#222" stroke-width="0.8"/>
<rect x="1599.86" y="277.00" width="4.6" height="5.00" fill="#ff1a1a" stroke="#222" stroke-width="0.8"/>
<rect x="1616.62" y="282.70" width="4.6" height="1.30" fill="#2e8008" stroke="#222" stroke-width="0.8"/>
<rect x="1625.00" y="282.70" width="4.6" height="19.30" fill="#ff1a1a" stroke="#222" stroke-width="0.8"/>
<rect x="1633.38" y="285.60" width="4.6" height="16.00" fill="#2e8008" stroke="#222" stroke-width="0.8"/>
<rect x="1641.76" y="270.00" width="4.6" height="15.30" fill="#2e8008" stroke="#222" stroke-width="0.8"/>
<line x1="137" y1="164.4" x2="137" y2="726.5" stroke="#1f7f06" stroke-width="2"/>
<line x1="124" y1="165.40" x2="137.7" y2="165.40" stroke="#1f7f06" stroke-width="2"/>
<text x="117" y="172.70" font-size="23" text-anchor="end" textLength="63.5" lengthAdjust="spacingAndGlyphs" fill="#1f7f06">166.00</text>
<line x1="124" y1="251.57" x2="137.7" y2="251.57" stroke="#1f7f06" stroke-width="2"/>
<text x="117" y="258.87" font-size="23" text-anchor="end" textLength="63.5" lengthAdjust="spacingAndGlyphs" fill="#1f7f06">164.00</text>
<line x1="124" y1="337.74" x2="137.7" y2="337.74" stroke="#1f7f06" stroke-width="2"/>
<text x="117" y="345.04" font-size="23" text-anchor="end" textLength="63.5" lengthAdjust="spacingAndGlyphs" fill="#1f7f06">162.00</text>
<line x1="124" y1="423.91" x2="137.7" y2="423.91" stroke="#1f7f06" stroke-width="2"/>
<text x="117" y="431.21" font-size="23" text-anchor="end" textLength="63.5" lengthAdjust="spacingAndGlyphs" fill="#1f7f06">160.00</text>
<line x1="124" y1="510.08" x2="137.7" y2="510.08" stroke="#1f7f06" stroke-width="2"/>
<text x="117" y="517.38" font-size="23" text-anchor="end" textLength="63.5" lengthAdjust="spacingAndGlyphs" fill="#1f7f06">158.00</text>
<line x1="124" y1="596.25" x2="137.7" y2="596.25" stroke="#1f7f06" stroke-width="2"/>
<text x="117" y="603.55" font-size="23" text-anchor="end" textLength="63.5" lengthAdjust="spacingAndGlyphs" fill="#1f7f06">156.00</text>
<line x1="124" y1="682.42" x2="137.7" y2="682.42" stroke="#1f7f06" stroke-width="2"/>
<text x="117" y="689.72" font-size="23" text-anchor="end" textLength="63.5" lengthAdjust="spacingAndGlyphs" fill="#1f7f06">154.00</text>
<line x1="124" y1="725.50" x2="137.7" y2="725.50" stroke="#1f7f06" stroke-width="2"/>
<line x1="1654" y1="164.4" x2="1654" y2="726.5" stroke="#8c8c8c" stroke-width="2"/>
<line x1="1653" y1="725.50" x2="1665" y2="725.50" stroke="#8c8c8c" stroke-width="2"/>
<text x="1672.5" y="733.10" font-size="21.5" textLength="36.3" lengthAdjust="spacingAndGlyphs" fill="#26344a">10%</text>
<line x1="1653" y1="663.27" x2="1665" y2="663.27" stroke="#8c8c8c" stroke-width="2"/>
<text x="1672.5" y="670.87" font-size="21.5" textLength="36.3" lengthAdjust="spacingAndGlyphs" fill="#26344a">15%</text>
<line x1="1653" y1="601.03" x2="1665" y2="601.03" stroke="#8c8c8c" stroke-width="2"/>
<text x="1672.5" y="608.63" font-size="21.5" textLength="36.3" lengthAdjust="spacingAndGlyphs" fill="#26344a">20%</text>
<line x1="1653" y1="538.80" x2="1665" y2="538.80" stroke="#8c8c8c" stroke-width="2"/>
<text x="1672.5" y="546.40" font-size="21.5" textLength="36.3" lengthAdjust="spacingAndGlyphs" fill="#26344a">25%</text>
<line x1="1653" y1="476.57" x2="1665" y2="476.57" stroke="#8c8c8c" stroke-width="2"/>
<text x="1672.5" y="484.17" font-size="21.5" textLength="36.3" lengthAdjust="spacingAndGlyphs" fill="#26344a">30%</text>
<line x1="1653" y1="414.33" x2="1665" y2="414.33" stroke="#8c8c8c" stroke-width="2"/>
<text x="1672.5" y="421.93" font-size="21.5" textLength="36.3" lengthAdjust="spacingAndGlyphs" fill="#26344a">35%</text>
<line x1="1653" y1="352.10" x2="1665" y2="352.10" stroke="#8c8c8c" stroke-width="2"/>
<text x="1672.5" y="359.70" font-size="21.5" textLength="36.3" lengthAdjust="spacingAndGlyphs" fill="#26344a">40%</text>
<line x1="1653" y1="289.87" x2="1665" y2="289.87" stroke="#8c8c8c" stroke-width="2"/>
<text x="1672.5" y="297.47" font-size="21.5" textLength="36.3" lengthAdjust="spacingAndGlyphs" fill="#26344a">45%</text>
<line x1="1653" y1="227.63" x2="1665" y2="227.63" stroke="#8c8c8c" stroke-width="2"/>
<text x="1672.5" y="235.23" font-size="21.5" textLength="36.3" lengthAdjust="spacingAndGlyphs" fill="#26344a">50%</text>
<line x1="1653" y1="165.40" x2="1665" y2="165.40" stroke="#8c8c8c" stroke-width="2"/>
<text x="1672.5" y="173.00" font-size="21.5" textLength="36.3" lengthAdjust="spacingAndGlyphs" fill="#26344a">55%</text>
<text x="163" y="784.2" font-size="23" font-weight="bold" textLength="221.2" lengthAdjust="spacingAndGlyphs" fill="#000">Percentage of Traders</text>
<rect x="442" y="766" width="20" height="20" fill="#e7f3fc" stroke="#1e9be6" stroke-width="4"/>
<text x="472.9" y="784" font-size="25.5" textLength="77.9" lengthAdjust="spacingAndGlyphs" fill="#000">net long</text>
<rect x="672" y="766" width="20" height="20" fill="#f5e5e8" stroke="#d0021b" stroke-width="4"/>
<text x="702.9" y="784" font-size="25.5" textLength="85.4" lengthAdjust="spacingAndGlyphs" fill="#000">net short</text>
<text x="903" y="784.2" font-size="23" font-weight="bold" textLength="183.3" lengthAdjust="spacingAndGlyphs" fill="#000">Number of Traders</text>
<line x1="1142" y1="775.8" x2="1162" y2="775.8" stroke="#1e9be6" stroke-width="4"/>
<text x="1172.1" y="784" font-size="25.5" textLength="79.2" lengthAdjust="spacingAndGlyphs" fill="#000">net long</text>
<line x1="1372" y1="775.8" x2="1392" y2="775.8" stroke="#d0021b" stroke-width="4"/>
<text x="1402.3" y="784" font-size="25.5" textLength="86.4" lengthAdjust="spacingAndGlyphs" fill="#000">net short</text>
<line x1="145.4" y1="830.99" x2="1645.8" y2="830.99" stroke="#c4c4c4" stroke-width="1.5" stroke-dasharray="4 4"/>
<line x1="145.4" y1="855.27" x2="1645.8" y2="855.27" stroke="#c4c4c4" stroke-width="1.5" stroke-dasharray="4 4"/>
<line x1="145.4" y1="879.56" x2="1645.8" y2="879.56" stroke="#c4c4c4" stroke-width="1.5" stroke-dasharray="4 4"/>
<line x1="145.4" y1="903.84" x2="1645.8" y2="903.84" stroke="#c4c4c4" stroke-width="1.5" stroke-dasharray="4 4"/>
<line x1="145.4" y1="928.13" x2="1645.8" y2="928.13" stroke="#c4c4c4" stroke-width="1.5" stroke-dasharray="4 4"/>
<line x1="145.4" y1="952.41" x2="1645.8" y2="952.41" stroke="#c4c4c4" stroke-width="1.5" stroke-dasharray="4 4"/>
<line x1="145.4" y1="977.0" x2="1645.8" y2="977.0" stroke="#c8c8c8" stroke-width="1.6" stroke-dasharray="3.2 0.8"/>
<line x1="355.10" y1="806.7" x2="355.10" y2="976.7" stroke="#a8a8a8" stroke-width="1.6" stroke-dasharray="3 5"/>
<line x1="355.10" y1="975.7" x2="355.10" y2="988" stroke="#999" stroke-width="1.6"/>
<line x1="606.48" y1="806.7" x2="606.48" y2="976.7" stroke="#a8a8a8" stroke-width="1.6" stroke-dasharray="3 5"/>
<line x1="606.48" y1="975.7" x2="606.48" y2="988" stroke="#999" stroke-width="1.6"/>
<line x1="866.24" y1="806.7" x2="866.24" y2="976.7" stroke="#a8a8a8" stroke-width="1.6" stroke-dasharray="3 5"/>
<line x1="866.24" y1="975.7" x2="866.24" y2="988" stroke="#999" stroke-width="1.6"/>
<line x1="1126.00" y1="806.7" x2="1126.00" y2="976.7" stroke="#a8a8a8" stroke-width="1.6" stroke-dasharray="3 5"/>
<line x1="1126.00" y1="975.7" x2="1126.00" y2="988" stroke="#999" stroke-width="1.6"/>
<line x1="1369.00" y1="806.7" x2="1369.00" y2="976.7" stroke="#a8a8a8" stroke-width="1.6" stroke-dasharray="3 5"/>
<line x1="1369.00" y1="975.7" x2="1369.00" y2="988" stroke="#999" stroke-width="1.6"/>
<line x1="1628.75" y1="806.7" x2="1628.75" y2="976.7" stroke="#a8a8a8" stroke-width="1.6" stroke-dasharray="3 5"/>
<line x1="1628.75" y1="975.7" x2="1628.75" y2="988" stroke="#999" stroke-width="1.6"/>
<line x1="144" y1="807.0" x2="1645.8" y2="807.0" stroke="#8c8c8c" stroke-width="2" stroke-dasharray="4.7 3.3"/>
<line x1="145.5" y1="806.7" x2="145.5" y2="976.7" stroke="#8c8c8c" stroke-width="2" stroke-dasharray="3.7 4.3" stroke-dashoffset="2.5"/>
<line x1="1645.8" y1="806.7" x2="1645.8" y2="976.7" stroke="#bbb" stroke-width="1.6" stroke-dasharray="2.5 5.5"/>
<polyline clip-path="url(#bc)" points="144.04,865.00 152.42,865.00 160.80,871.20 169.18,870.90 177.56,861.70 185.94,850.60 194.32,860.40 202.70,872.10 211.08,872.10 219.46,870.10 227.84,864.40 236.22,853.60 244.60,859.30 252.98,864.40 261.36,862.00 269.74,862.00 278.12,860.90 286.50,847.50 294.88,860.90 303.26,850.60 311.64,865.00 320.02,872.10 328.40,872.10 336.78,871.20 345.16,861.70 353.54,845.50 361.92,866.30 370.30,857.80 378.68,853.90 387.61,853.80 395.99,852.10 404.37,833.10 412.75,823.40 421.13,828.10 429.51,826.20 437.89,827.40 446.27,827.40 454.65,828.10 463.03,821.60 471.41,816.20 479.79,811.60 488.17,817.30 496.55,835.10 504.93,835.10 513.31,832.70 521.69,820.00 530.07,837.80 538.45,841.90 546.83,834.20 555.21,833.10 563.59,833.10 571.97,831.10 580.35,822.30 588.73,829.60 597.11,837.80 605.49,846.50 613.87,875.20 622.25,875.20 630.63,875.20 639.01,870.90 647.39,869.40 655.77,873.70 664.15,903.60 672.53,903.60 680.91,903.60 689.29,902.00 697.67,888.60 706.05,879.40 714.43,896.30 722.81,902.50 731.19,898.60 739.57,898.60 747.95,896.80 756.33,890.20 764.71,882.90 773.09,890.90 781.47,889.40 789.85,895.90 798.23,895.90 806.61,896.30 814.99,896.80 823.37,897.40 831.75,896.30 840.13,891.20 848.51,896.30 856.89,896.30 865.27,895.30 873.65,894.30 882.03,880.50 890.41,887.50 898.79,867.50 907.17,874.30 915.55,874.30 923.93,871.20 932.31,860.40 940.69,869.10 949.07,863.50 957.45,862.40 965.83,879.40 974.21,879.40 982.59,876.30 990.97,867.80 999.35,863.20 1007.73,860.40 1016.11,855.80 1024.49,862.00 1032.87,862.00 1041.25,861.30 1049.63,846.50 1058.01,843.50 1066.39,853.90 1074.77,860.40 1083.15,859.30 1091.53,859.30 1099.91,858.00 1108.29,866.50 1116.67,859.30 1125.05,873.70 1133.43,876.30 1141.81,870.10 1150.19,870.10 1158.57,869.40 1166.95,851.60 1175.33,869.70 1183.71,869.40 1192.09,863.20 1200.47,864.00 1208.85,864.00 1217.23,864.40 1225.61,841.90 1233.99,859.80 1242.37,846.50 1250.75,842.80 1259.13,853.20 1267.51,853.20 1275.89,852.40 1284.27,841.90 1292.65,847.80 1301.03,844.70 1309.41,849.60 1317.79,852.10 1326.17,852.10 1334.55,849.60 1342.93,840.40 1351.31,844.40 1359.69,842.80 1368.07,861.70 1376.45,857.00 1384.83,857.00 1393.21,853.60 1401.59,849.30 1409.97,854.70 1418.35,852.40 1426.73,860.40 1435.11,875.80 1442.94,875.80 1451.32,872.40 1459.70,866.60 1468.08,864.70 1476.46,852.10 1484.84,847.50 1493.22,848.60 1501.60,848.60 1509.98,846.20 1518.36,841.30 1526.74,847.80 1535.12,849.30 1543.50,832.40 1551.88,858.30 1560.26,858.30 1568.64,857.10 1577.02,856.50 1585.40,851.00 1593.78,853.70 1602.16,848.30 1610.54,855.30 1618.92,855.30 1627.30,855.00 1635.68,852.50 1644.06,845.00" fill="none" stroke="#d0021b" stroke-width="3.2"/>
<polyline clip-path="url(#bc)" points="144.04,973.40 152.42,973.40 160.80,966.80 169.18,961.50 177.56,959.10 185.94,964.60 194.32,962.60 202.70,966.20 211.08,966.20 219.46,964.60 227.84,962.20 236.22,966.80 244.60,967.70 252.98,961.80 261.36,970.30 269.74,970.30 278.12,969.50 286.50,964.60 294.88,961.10 303.26,961.10 311.64,965.70 320.02,967.70 328.40,967.70 336.78,967.20 345.16,965.20 353.54,970.30 361.92,961.10 370.30,949.80 378.68,965.20 387.61,965.50 395.99,966.40 404.37,967.70 412.75,970.30 421.13,968.00 429.51,966.40 437.89,969.20 446.27,969.20 454.65,966.40 463.03,963.70 471.41,968.80 479.79,965.70 488.17,969.90 496.55,973.40 504.93,973.40 513.31,970.80 521.69,968.00 530.07,962.60 538.45,960.00 546.83,952.60 555.21,965.70 563.59,965.70 571.97,964.60 580.35,964.60 588.73,965.70 597.11,956.00 605.49,956.00 613.87,953.80 622.25,953.80 630.63,950.70 639.01,946.10 647.39,940.60 655.77,940.60 664.15,934.40 672.53,942.10 680.91,942.10 689.29,939.50 697.67,941.50 706.05,938.00 714.43,942.10 722.81,942.60 731.19,943.00 739.57,943.00 747.95,939.00 756.33,935.30 764.71,954.10 773.09,946.70 781.47,949.20 789.85,948.30 798.23,948.30 806.61,946.10 814.99,943.60 823.37,938.70 831.75,946.10 840.13,947.70 848.51,949.50 856.89,949.50 865.27,948.20 873.65,946.70 882.03,945.70 890.41,944.10 898.79,951.80 907.17,956.40 915.55,956.40 923.93,950.30 932.31,946.40 940.69,935.90 949.07,944.60 957.45,954.90 965.83,948.30 974.21,948.30 982.59,948.00 990.97,935.60 999.35,941.00 1007.73,954.90 1016.11,952.90 1024.49,958.40 1032.87,958.70 1041.25,959.50 1049.63,959.50 1058.01,962.10 1066.39,958.70 1074.77,954.90 1083.15,958.00 1091.53,958.00 1099.91,956.60 1108.29,950.30 1116.67,953.80 1125.05,952.90 1133.43,954.10 1141.81,966.20 1150.19,966.20 1158.57,964.60 1166.95,956.90 1175.33,952.60 1183.71,954.10 1192.09,954.40 1200.47,958.70 1208.85,958.70 1217.23,957.50 1225.61,956.00 1233.99,954.90 1242.37,950.70 1250.75,957.50 1259.13,960.00 1267.51,960.00 1275.89,958.40 1284.27,955.40 1292.65,953.40 1301.03,956.90 1309.41,961.10 1317.79,961.80 1326.17,961.80 1334.55,962.10 1342.93,960.30 1351.31,950.50 1359.69,954.90 1368.07,958.40 1376.45,960.30 1384.83,960.30 1393.21,957.50 1401.59,958.40 1409.97,955.40 1418.35,955.40 1426.73,959.50 1435.11,961.10 1442.94,961.10 1451.32,958.70 1459.70,952.60 1468.08,951.00 1476.46,952.90 1484.84,960.30 1493.22,961.10 1501.60,961.10 1509.98,958.40 1518.36,956.40 1526.74,964.60 1535.12,970.30 1543.50,964.90 1551.88,964.90 1560.26,965.10 1568.64,965.10 1577.02,945.00 1585.40,943.30 1593.78,949.70 1602.16,957.50 1610.54,959.70 1618.92,959.70 1627.30,959.20 1635.68,955.00 1644.06,952.50" fill="none" stroke="#1e9be6" stroke-width="3.2"/>
<line x1="1654.2" y1="805.7" x2="1654.2" y2="977.7" stroke="#999" stroke-width="2"/>
<line x1="1653.2" y1="976.70" x2="1664.7" y2="976.70" stroke="#999" stroke-width="2"/>
<text x="1672" y="984.60" font-size="21.5" textLength="33.8" lengthAdjust="spacingAndGlyphs" fill="#26344a">100</text>
<line x1="1653.2" y1="952.41" x2="1664.7" y2="952.41" stroke="#999" stroke-width="2"/>
<text x="1672" y="960.31" font-size="21.5" textLength="33.8" lengthAdjust="spacingAndGlyphs" fill="#26344a">200</text>
<line x1="1653.2" y1="928.13" x2="1664.7" y2="928.13" stroke="#999" stroke-width="2"/>
<text x="1672" y="936.03" font-size="21.5" textLength="33.8" lengthAdjust="spacingAndGlyphs" fill="#26344a">300</text>
<line x1="1653.2" y1="903.84" x2="1664.7" y2="903.84" stroke="#999" stroke-width="2"/>
<text x="1672" y="911.74" font-size="21.5" textLength="33.8" lengthAdjust="spacingAndGlyphs" fill="#26344a">400</text>
<line x1="1653.2" y1="879.56" x2="1664.7" y2="879.56" stroke="#999" stroke-width="2"/>
<text x="1672" y="887.46" font-size="21.5" textLength="33.8" lengthAdjust="spacingAndGlyphs" fill="#26344a">500</text>
<line x1="1653.2" y1="855.27" x2="1664.7" y2="855.27" stroke="#999" stroke-width="2"/>
<text x="1672" y="863.17" font-size="21.5" textLength="33.8" lengthAdjust="spacingAndGlyphs" fill="#26344a">600</text>
<line x1="1653.2" y1="830.99" x2="1664.7" y2="830.99" stroke="#999" stroke-width="2"/>
<text x="1672" y="838.89" font-size="21.5" textLength="33.8" lengthAdjust="spacingAndGlyphs" fill="#26344a">700</text>
<line x1="1653.2" y1="806.70" x2="1664.7" y2="806.70" stroke="#999" stroke-width="2"/>
<text x="1672" y="814.60" font-size="21.5" textLength="33.8" lengthAdjust="spacingAndGlyphs" fill="#26344a">800</text>
<text transform="translate(362.20,1115) rotate(-90)" font-size="23.5" textLength="115.3" lengthAdjust="spacingAndGlyphs" fill="#26344a">2023-Nov-01</text>
<text transform="translate(613.58,1115) rotate(-90)" font-size="23.5" textLength="115.3" lengthAdjust="spacingAndGlyphs" fill="#26344a">2023-Dec-01</text>
<text transform="translate(873.34,1115) rotate(-90)" font-size="23.5" textLength="115.3" lengthAdjust="spacingAndGlyphs" fill="#26344a">2024-Jan-01</text>
<text transform="translate(1133.10,1115) rotate(-90)" font-size="23.5" textLength="115.3" lengthAdjust="spacingAndGlyphs" fill="#26344a">2024-Feb-01</text>
<text transform="translate(1376.10,1115) rotate(-90)" font-size="23.5" textLength="115.3" lengthAdjust="spacingAndGlyphs" fill="#26344a">2024-Mar-01</text>
<text transform="translate(1635.85,1115) rotate(-90)" font-size="23.5" textLength="115.3" lengthAdjust="spacingAndGlyphs" fill="#26344a">2024-Apr-01</text>
<defs><filter id="sh" x="-20%" y="-20%" width="140%" height="140%"><feDropShadow dx="1.2" dy="1.6" stdDeviation="0.7" flood-color="#6b7078" flood-opacity="0.9"/></filter></defs>
<g fill="#fcfdfd" fill-rule="evenodd" filter="url(#sh)">
<path d="M1566.29,1108.00 L1577.79,1108.00 L1574.58,1123.30 L1563.08,1123.30 Z"/>
<path d="M1575.79,1108.00 L1618.29,1108.00 L1616.40,1117.00 L1573.90,1117.00 Z"/>
<path d="M1582.11,1116.00 L1615.61,1116.00 L1606.16,1161.00 L1572.66,1161.00 Z M1585.90,1126.50 L1602.90,1126.50 L1600.99,1135.60 L1583.99,1135.60 Z M1581.34,1143.50 L1598.84,1143.50 L1596.76,1153.40 L1579.26,1153.40 Z"/>
<path d="M1562.01,1126.00 L1581.01,1126.00 L1577.90,1140.80 L1558.90,1140.80 Z"/>
<path d="M1553.00,1161.00 L1563.00,1161.00 L1574.50,1142.00 L1564.50,1142.00 Z"/>
<path d="M1628.27,1110.50 L1674.27,1110.50 L1673.11,1116.00 L1627.11,1116.00 Z"/>
<path d="M1628.27,1110.50 L1635.77,1110.50 L1631.46,1131.00 L1623.96,1131.00 Z"/>
<path d="M1622.98,1129.00 L1665.38,1129.00 L1663.60,1137.50 L1621.19,1137.50 Z"/>
<path d="M1617.83,1144.00 L1656.83,1144.00 L1655.15,1152.00 L1616.15,1152.00 Z"/>
<path d="M1668.30,1107.00 L1676.80,1107.00 L1665.25,1162.00 L1656.75,1162.00 Z"/>
<path d="M1640.92,1155.00 L1665.92,1155.00 L1664.45,1162.00 L1639.45,1162.00 Z"/>
<path d="M1683.79,1108.00 L1709.79,1108.00 L1701.39,1148.00 L1675.39,1148.00 Z M1689.40,1117.00 L1700.40,1117.00 L1693.79,1148.50 L1682.79,1148.50 Z"/>
<path d="M1675.60,1147.00 L1683.10,1147.00 L1680.08,1161.40 L1672.58,1161.40 Z"/>
<path d="M1692.60,1147.00 L1700.10,1147.00 L1697.08,1161.40 L1689.58,1161.40 Z"/>
<path d="M1711.74,1113.00 L1744.74,1113.00 L1743.06,1121.00 L1710.06,1121.00 Z"/>
<path d="M1729.50,1107.00 L1737.20,1107.00 L1725.78,1161.40 L1718.08,1161.40 Z"/>
<path d="M1711.03,1154.50 L1727.03,1154.50 L1725.58,1161.40 L1709.58,1161.40 Z"/>
<path d="M1717.00,1121.00 L1726.00,1121.00 L1709.00,1157.60 L1700.50,1157.60 Z"/>
<path d="M1755.00,1108.00 L1764.00,1108.00 L1750.50,1123.50 L1741.50,1123.50 Z"/>
<path d="M1757.00,1121.50 L1766.50,1121.50 L1749.00,1140.50 L1739.50,1140.50 Z"/>
<path d="M1739.80,1127.00 L1748.80,1127.00 L1747.64,1132.50 L1738.64,1132.50 Z"/>
<path d="M1737.86,1141.00 L1757.86,1141.00 L1756.35,1148.20 L1736.35,1148.20 Z"/>
<path d="M1767.79,1108.00 L1799.79,1108.00 L1798.19,1115.60 L1766.19,1115.60 Z"/>
<path d="M1790.00,1108.00 L1799.50,1108.00 L1787.00,1125.50 L1778.00,1125.50 Z"/>
<path d="M1764.59,1128.00 L1792.59,1128.00 L1791.04,1135.40 L1763.04,1135.40 Z"/>
<path d="M1761.60,1137.50 L1791.60,1137.50 L1790.17,1144.30 L1760.17,1144.30 Z"/>
<path d="M1772.23,1144.00 L1779.23,1144.00 L1776.71,1156.00 L1769.71,1156.00 Z"/>
<path d="M1734.03,1154.50 L1786.03,1154.50 L1784.58,1161.40 L1732.58,1161.40 Z"/>
</g>
<text x="1565" y="1194.7" font-size="32" font-weight="bold" font-style="italic" textLength="223" lengthAdjust="spacing" fill="#8dcbf0" stroke="#8dcbf0" stroke-width="0.7" filter="url(#sh)">zzrt01.cn</text>
</svg></body></html>
